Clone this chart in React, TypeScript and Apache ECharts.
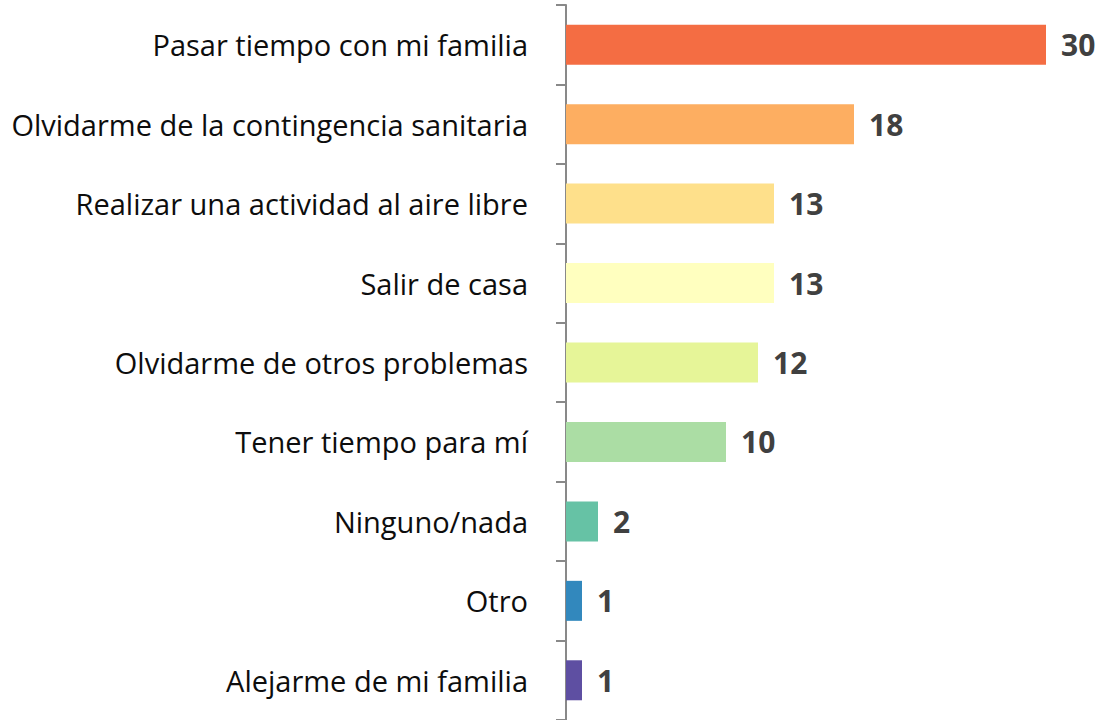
import React, { useEffect, useRef } from "react";
import * as echarts from "echarts";

const categories = [
  "Pasar tiempo con mi familia",
  "Olvidarme de la contingencia sanitaria",
  "Realizar una actividad al aire libre",
  "Salir de casa",
  "Olvidarme de otros problemas",
  "Tener tiempo para mí",
  "Ninguno/nada",
  "Otro",
  "Alejarme de mi familia",
];
const values = [30, 18, 13, 13, 12, 10, 2, 1, 1];
const colors = [
  "#F46D43",
  "#FDAE61",
  "#FEE08B",
  "#FFFFBF",
  "#E6F598",
  "#ABDDA4",
  "#66C2A5",
  "#3288BD",
  "#5E4FA2",
];

export default function App() {
  const ref = useRef<HTMLDivElement>(null);
  useEffect(() => {
    if (!ref.current) return;
    const chart = echarts.init(ref.current, null, { renderer: "svg" });
    chart.setOption({
      animation: false,
      grid: { left: 566, right: 53, top: 5, bottom: 0, containLabel: false },
      xAxis: {
        type: "value",
        min: 0,
        max: 30,
        show: false,
      },
      yAxis: {
        type: "category",
        inverse: true,
        data: categories,
        axisLine: { show: true, lineStyle: { color: "#898989", width: 2 } },
        axisTick: {
          show: true,
          alignWithLabel: false,
          length: 10,
          lineStyle: { color: "#898989", width: 2 },
        },
        axisLabel: {
          margin: 38,
          fontFamily: "Open Sans",
          fontSize: 29,
          color: "#0d0d0d",
        },
      },
      series: [
        {
          type: "bar",
          barWidth: 40,
          data: values.map((v, i) => ({ value: v, itemStyle: { color: colors[i] } })),
          label: {
            show: true,
            position: "right",
            distance: 15,
            fontFamily: "Open Sans",
            fontWeight: "bold",
            fontSize: 30,
            color: "#404040",
          },
        },
      ],
    });
    return () => chart.dispose();
  }, []);
  return (
    <div
      ref={ref}
      style={{ position: "fixed", left: 0, top: 0, width: 1099, height: 720, background: "#fff" }}
    />
  );
}
